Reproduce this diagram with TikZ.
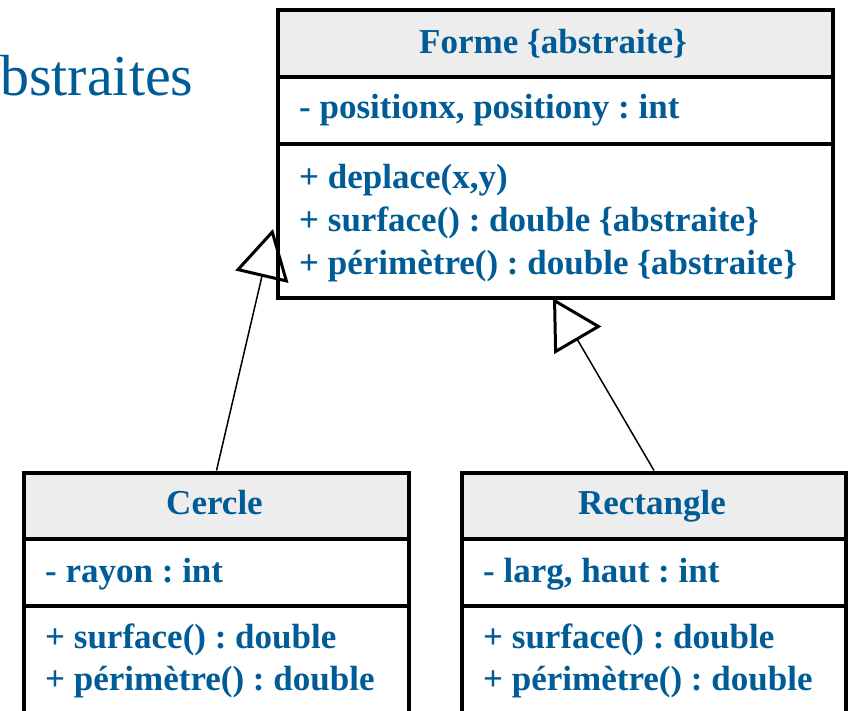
\documentclass[tikz,border=0pt]{standalone}
\usepackage{fontspec}
\setmainfont{Liberation Serif}
\usetikzlibrary{arrows.meta}
\frenchspacing
\definecolor{umlblue}{RGB}{0,92,150}
\definecolor{hdrgray}{RGB}{237,237,237}
\tikzset{
  cls/.style={draw=black, line width=4pt, rectangle, inner sep=0pt, anchor=north west},
  hdr/.style={cls, fill=hdrgray},
  sect/.style={cls, fill=white},
  lbl/.style={text=umlblue, font=\bfseries\fontsize{35}{43}\selectfont, inner sep=0pt},
  ttl/.style={text=umlblue, font=\fontsize{58}{68}\selectfont, inner sep=0pt, anchor=base west},
  inherit/.style={line width=1.5pt, -{Triangle[open, length=49pt, width=54pt, line width=3pt]}}
}
\begin{document}
\begin{tikzpicture}[x=1pt,y=-1pt]
\useasboundingbox (0,0) rectangle (849,710);
\clip (0,0) rectangle (849,710);
\fill[white] (0,0) rectangle (849,710);

% title fragment
\node[ttl] (title) at (0,95) {bstraites};

% Forme
\node[hdr,  minimum width=555pt, minimum height=67pt]  (formeH) at (275.5,8) {};
\node[sect, minimum width=555pt, minimum height=67pt]  (formeA) at (275.5,75) {};
\node[sect, minimum width=555pt, minimum height=154pt] (formeM) at (275.5,142) {};
\node[lbl, anchor=base] (formeT) at (553,53) {Forme \{abstraite\}};
\node[lbl, anchor=base west] (formeA1) at (299,118) {- positionx, positiony : int};
\node[lbl, anchor=base west] (formeM1) at (299,188) {+ deplace(x,y)};
\node[lbl, anchor=base west] (formeM2) at (299,231) {+ surface() : double \{abstraite\}};
\node[lbl, anchor=base west] (formeM3) at (299,274) {+ périmètre() : double \{abstraite\}};

% Cercle
\node[hdr,  minimum width=385pt, minimum height=67pt]  (cercleH) at (22,470.5) {};
\node[sect, minimum width=385pt, minimum height=67pt]  (cercleA) at (22,537) {};
\node[sect, minimum width=385pt, minimum height=140pt] (cercleM) at (22,604) {};
\node[lbl, anchor=base] (cercleT) at (214.5,514) {Cercle};
\node[lbl, anchor=base west] (cercleA1) at (45,582) {- rayon : int};
\node[lbl, anchor=base west] (cercleM1) at (45,648) {+ surface() : double};
\node[lbl, anchor=base west] (cercleM2) at (45,690) {+ périmètre() : double};

% Rectangle
\node[hdr,  minimum width=384pt, minimum height=67pt]  (rectH) at (460,470.5) {};
\node[sect, minimum width=384pt, minimum height=67pt]  (rectA) at (460,537) {};
\node[sect, minimum width=384pt, minimum height=140pt] (rectM) at (460,604) {};
\node[lbl, anchor=base] (rectT) at (652,514) {Rectangle};
\node[lbl, anchor=base west] (rectA1) at (483,582) {- larg, haut : int};
\node[lbl, anchor=base west] (rectM1) at (483,648) {+ surface() : double};
\node[lbl, anchor=base west] (rectM2) at (483,690) {+ périmètre() : double};

% inheritance
\coordinate (tipC) at (273,229);
\coordinate (tipR) at (553,298);
\draw[inherit] (cercleH.north) -- (tipC);
\draw[inherit] (rectH.north) -- (tipR);
\end{tikzpicture}
\end{document}
